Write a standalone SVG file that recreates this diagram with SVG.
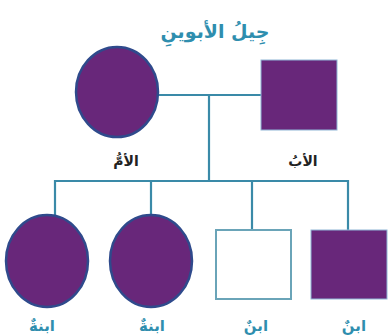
<svg xmlns="http://www.w3.org/2000/svg" width="388" height="336" viewBox="0 0 388 336">
<style>
.fem{fill:#68277a;stroke:#2f4a8c;stroke-width:2.5}
.male{fill:#68277a;stroke:#8fb6d6;stroke-width:1}
.unaff{fill:#ffffff;stroke:#6aa4b8;stroke-width:2}
.ln{stroke:#3a8aa8;stroke-width:2.2;fill:none}
.t{font-family:"DejaVu Sans",sans-serif;font-weight:bold;text-anchor:middle}
.teal{fill:#2f8eae}
.dark{fill:#222222}
</style>
<rect width="388" height="336" fill="#ffffff"/>
<text class="t teal" x="215" y="38" font-size="19" direction="rtl">جِيلُ الأبوينِ</text>
<g id="connectors">
<line class="ln" x1="157" y1="95" x2="261" y2="95"/>
<line class="ln" x1="209" y1="95" x2="209" y2="181"/>
<line class="ln" x1="54" y1="181" x2="349" y2="181"/>
<line class="ln" x1="55" y1="180" x2="55" y2="216"/>
<line class="ln" x1="151" y1="180" x2="151" y2="216"/>
<line class="ln" x1="252" y1="180" x2="252" y2="230"/>
<line class="ln" x1="348" y1="180" x2="348" y2="230"/>
</g>
<g id="mother">
<ellipse class="fem" cx="117" cy="92" rx="41" ry="45"/>
<text class="t dark" x="126" y="166" font-size="14" direction="rtl">الأمُّ</text>
</g>
<g id="father">
<rect class="male" x="261" y="60" width="76" height="70"/>
<text class="t dark" x="303" y="166" font-size="14" direction="rtl">الأبُ</text>
</g>
<g id="daughter1">
<ellipse class="fem" cx="47" cy="261" rx="41" ry="46"/>
<text class="t teal" x="42" y="331" font-size="15" direction="rtl">ابنةٌ</text>
</g>
<g id="daughter2">
<ellipse class="fem" cx="151" cy="261" rx="41" ry="46"/>
<text class="t teal" x="152" y="331" font-size="15" direction="rtl">ابنةٌ</text>
</g>
<g id="son1">
<rect class="unaff" x="216" y="230" width="75" height="69"/>
<text class="t teal" x="256" y="331" font-size="15" direction="rtl">ابنٌ</text>
</g>
<g id="son2">
<rect class="male" x="311" y="230" width="76" height="69"/>
<text class="t teal" x="354" y="331" font-size="15" direction="rtl">ابنٌ</text>
</g>
</svg>
